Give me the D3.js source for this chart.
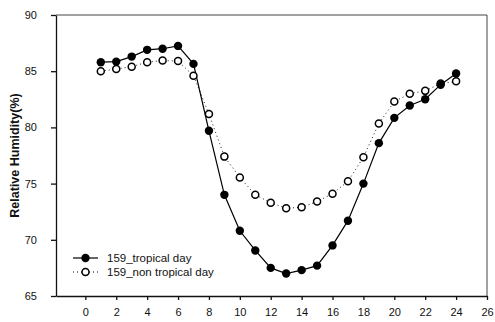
<!DOCTYPE html>
<html>
<head>
<meta charset="utf-8">
<script src="https://cdn.jsdelivr.net/npm/d3@7"></script>
<style>
  body { margin: 0; background: #fff; }
  text { font-family: "Liberation Sans", Arial, sans-serif; fill: #111; }
</style>
</head>
<body>
<div id="chart"></div>
<script>
document.addEventListener("DOMContentLoaded", function() {
  var width = 495,
      height = 322,
      chart = d3.select('#chart').append('svg')
                .attr('width', width)
                .attr('height', height);

  var hours = [1, 2, 3, 4, 5, 6, 7, 8, 9, 10, 11, 12, 13, 14, 15, 16, 17, 18, 19, 20, 21, 22, 23, 24];
  var tropical = [85.8, 85.85, 86.3, 86.9, 87.0, 87.25, 85.65, 79.7, 74.0, 70.8, 69.05, 67.5, 67.0, 67.3, 67.7, 69.5, 71.7, 75.0, 78.6, 80.85, 81.95, 82.5, 83.8, 84.8];
  var non_tropical = [85.0, 85.2, 85.4, 85.8, 85.95, 85.9, 84.6, 81.2, 77.4, 75.55, 74.0, 73.3, 72.8, 72.9, 73.4, 74.1, 75.2, 77.35, 80.35, 82.3, 83.0, 83.25, 83.9, 84.1];
  var x_ticks = [0, 2, 4, 6, 8, 10, 12, 14, 16, 18, 20, 22, 24, 26];
  var y_ticks = [65, 70, 75, 80, 85, 90];
  var series_names = ['159_tropical day', '159_non tropical day'];

  var x_scale = d3.scaleLinear()
    .domain([-1.9, 26])
    .range([56, 487]);

  var y_scale = d3.scaleLinear()
    .domain([65, 90])
    .range([296, 15]);

  // frame lines on top and right
  chart.append('line')
    .attr('x1', x_scale(-1.9)).attr('y1', y_scale(90))
    .attr('x2', x_scale(26)).attr('y2', y_scale(90))
    .attr('stroke', '#444').attr('stroke-width', 1);
  chart.append('line')
    .attr('x1', x_scale(26)).attr('y1', y_scale(90))
    .attr('x2', x_scale(26)).attr('y2', y_scale(65))
    .attr('stroke', '#444').attr('stroke-width', 1);

  var x_axis = chart.append('g')
    .attr('transform', 'translate(0,' + y_scale(65) + ')')
    .call(d3.axisBottom(x_scale).tickValues(x_ticks).tickSize(4).tickPadding(8).tickSizeOuter(0));

  var y_axis = chart.append('g')
    .attr('transform', 'translate(' + x_scale(-1.9) + ',0)')
    .call(d3.axisLeft(y_scale).tickValues(y_ticks).tickSize(5).tickPadding(14).tickSizeOuter(0));

  [x_axis, y_axis].forEach(function(ax) {
    ax.selectAll('path, line').attr('stroke', '#111').attr('stroke-width', 1.3);
    ax.selectAll('text')
      .attr('font-size', 11)
      .attr('font-family', '"Liberation Sans", Arial, sans-serif')
      .attr('fill', '#111');
  });

  chart.append('text')
    .attr('transform', 'translate(19,' + ((y_scale(65) + y_scale(90)) / 2) + ') rotate(-90)')
    .attr('text-anchor', 'middle')
    .attr('font-size', 12.5)
    .attr('font-weight', 'bold')
    .text('Relative Humidity(%)');

  var line = d3.line()
    .x(function(d) { return x_scale(d[0]); })
    .y(function(d) { return y_scale(d[1]); });

  var trop_pts = hours.map(function(h, i) { return [h, tropical[i]]; });
  var non_pts = hours.map(function(h, i) { return [h, non_tropical[i]]; });

  chart.append('path')
    .datum(non_pts)
    .attr('d', line)
    .attr('fill', 'none')
    .attr('stroke', '#222')
    .attr('stroke-width', 1)
    .attr('stroke-dasharray', '1,3');

  chart.append('path')
    .datum(trop_pts)
    .attr('d', line)
    .attr('fill', 'none')
    .attr('stroke', '#000')
    .attr('stroke-width', 1.2);

  chart.append('g').selectAll('circle')
    .data(non_pts)
    .enter().append('circle')
    .attr('cx', function(d) { return x_scale(d[0]); })
    .attr('cy', function(d) { return y_scale(d[1]); })
    .attr('r', 3.5)
    .attr('fill', '#fff')
    .attr('stroke', '#000')
    .attr('stroke-width', 1.5);

  chart.append('g').selectAll('circle')
    .data(trop_pts)
    .enter().append('circle')
    .attr('cx', function(d) { return x_scale(d[0]); })
    .attr('cy', function(d) { return y_scale(d[1]); })
    .attr('r', 4.2)
    .attr('fill', '#000');

  // legend
  var legend = chart.append('g').attr('transform', 'translate(73,258)');
  series_names.forEach(function(name, i) {
    var row = legend.append('g').attr('transform', 'translate(0,' + (i * 14) + ')');
    row.append('line')
      .attr('x1', 0).attr('x2', 25).attr('y1', 0).attr('y2', 0)
      .attr('stroke', '#000')
      .attr('stroke-width', i === 0 ? 1.2 : 1)
      .attr('stroke-dasharray', i === 0 ? null : '1,3');
    row.append('circle')
      .attr('cx', 12.5).attr('cy', 0)
      .attr('r', i === 0 ? 4.2 : 3.5)
      .attr('fill', i === 0 ? '#000' : '#fff')
      .attr('stroke', '#000')
      .attr('stroke-width', i === 0 ? 0 : 1.5);
    row.append('text')
      .attr('x', 34).attr('y', 4)
      .attr('font-size', 11.5)
      .text(name);
  });
});
</script>
</body>
</html>
